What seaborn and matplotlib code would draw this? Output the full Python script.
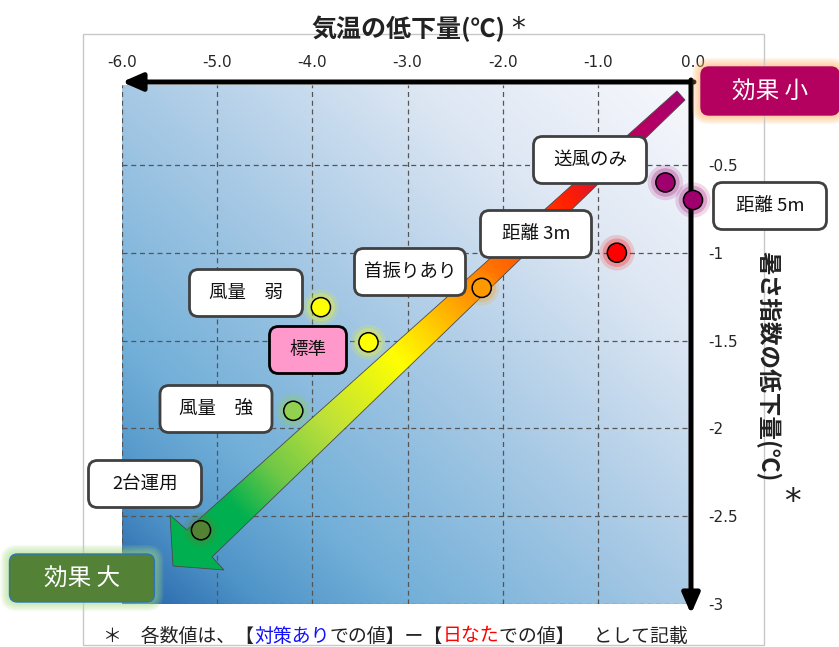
import numpy as np
import pandas as pd
import matplotlib.pyplot as plt
import seaborn as sns
from matplotlib.colors import LinearSegmentedColormap
from matplotlib.patches import FancyBboxPatch, Polygon, Rectangle
from matplotlib.transforms import Affine2D

# values
labels = ['送風のみ', '距離 5m', '距離 3m', '首振りあり', '風量　弱', '標準', '風量　強', '2台運用']
air_temp_drop = [-0.29, 0.0, -0.80, -2.22, -3.91, -3.41, -4.20, -5.17]
wbgt_drop = [-0.60, -0.70, -1.00, -1.20, -1.31, -1.51, -1.90, -2.58]
point_colors = ['#a0006e', '#a0006e', '#ff0000', '#ff9900', '#ffff00', '#ffff00', '#92d050', '#548235']

x_ticks = [-6, -5, -4, -3, -2, -1, 0]
x_ticklabels = ['-6.0', '-5.0', '-4.0', '-3.0', '-2.0', '-1.0', '0.0']
y_ticks = [-0.5, -1, -1.5, -2, -2.5, -3]
y_ticklabels = ['-0.5', '-1', '-1.5', '-2', '-2.5', '-3']

x_title = '気温の低下量(℃)'
y_title = '暑さ指数の低下量(℃)'
note_parts = ['＊　各数値は、【', '対策あり', 'での値】ー【', '日なた', 'での値】　として記載']
note_colors = ['#222222', '#1010ff', '#222222', '#ff0000', '#222222']

# label box layout, in pixels of the 839x647 picture (y down)
box_xy = [(590, 160), (770, 206), (536, 234), (410, 272), (246, 293), (308, 350), (216, 409), (145, 484)]
box_w = [113, 113, 111, 111, 113, 77, 112, 113]
box_h = 47

df = pd.DataFrame({'label': labels, 'air': air_temp_drop, 'wbgt': wbgt_drop})

sns.set_style('white')
plt.rcParams['font.family'] = ['Noto Sans CJK JP', 'DejaVu Sans']

W, H = 839, 647
L, R, T, B = 122, 693, 85, 604
fig = plt.figure(figsize=(W / 100, H / 100), dpi=100)
ax = fig.add_axes([L / W, 1 - B / H, (R - L) / W, (B - T) / H])
px = Affine2D().scale(1 / W, -1 / H).translate(0, 1) + fig.transFigure
ytop = -0.045
ext = (-6, 0, -3, ytop)

# background gradient (light top-right -> dark blue bottom-left)
n = 400
U, V = np.meshgrid(np.linspace(0, 1, n), np.linspace(1, 0, n))
bg_cmap = LinearSegmentedColormap.from_list('bg', [(0, '#f8f8fd'), (0.25, '#dce6f3'), (0.5, '#a7c9e5'),
                                                   (0.75, '#72afd8'), (0.88, '#4f94c8'), (1, '#2462a8')])
ax.imshow((2 - U - V) / 2, cmap=bg_cmap, vmin=0, vmax=1, extent=ext, aspect='auto', zorder=0)

# big tapered gradient arrow
PX = L + U * (R - L)
PY = B - V * (B - T)
tail = np.array([681, 95])
tip = np.array([173, 566])
d = tip - tail
t = ((PX - tail[0]) * d[0] + (PY - tail[1]) * d[1]) / float(d @ d)
arrow_cmap = LinearSegmentedColormap.from_list('ar', [(0, '#a8006e'), (0.12, '#c0005a'), (0.22, '#ff2000'),
                                                      (0.33, '#ff5a00'), (0.43, '#ff9a00'), (0.50, '#ffd400'),
                                                      (0.56, '#ffff00'), (0.70, '#bce03a'), (0.80, '#70c846'),
                                                      (0.88, '#00b050'), (1, '#00b050')])
im = ax.imshow(np.clip(t, 0, 1), cmap=arrow_cmap, vmin=0, vmax=1, extent=ext, aspect='auto', zorder=2)
shape = Polygon([(677, 91), (685, 100), (212, 557), (224, 570), (173, 566), (170, 515), (187, 530)],
                closed=True, transform=px, fc='none', ec='#4a4a4a', lw=0.6, zorder=2.1)
ax.add_patch(shape)
im.set_clip_path(shape)

# points with a soft glow
for s, a in [(650, 0.15), (420, 0.25)]:
    sns.scatterplot(data=df, x='air', y='wbgt', hue='label', palette=point_colors, s=s, alpha=a,
                    linewidth=0, legend=False, ax=ax, zorder=3, clip_on=False)
sns.scatterplot(data=df, x='air', y='wbgt', hue='label', palette=point_colors, s=190,
                edgecolor='black', linewidth=1.1, legend=False, ax=ax, zorder=5, clip_on=False)

# axis arrows
arrow_kw = dict(arrowstyle='-|>,head_length=0.55,head_width=0.24', color='black', lw=3.6,
                mutation_scale=22, shrinkA=0, shrinkB=0)
ax.annotate('', xy=(122, 82), xytext=(694, 82), xycoords=px, arrowprops=arrow_kw,
            annotation_clip=False, zorder=4)
ax.annotate('', xy=(691, 614), xytext=(691, 80), xycoords=px, arrowprops=arrow_kw,
            annotation_clip=False, zorder=4)

ax.set_xlim(-6, 0)
ax.set_ylim(-3, ytop)
ax.xaxis.tick_top()
ax.yaxis.tick_right()
ax.set_xticks(x_ticks, x_ticklabels)
ax.set_yticks(y_ticks, y_ticklabels)
ax.tick_params(length=0, labelsize=11, labelcolor='#262626')
ax.tick_params(axis='x', pad=11)
ax.tick_params(axis='y', pad=11)
for lbl in ax.get_xticklabels() + ax.get_yticklabels():
    lbl.set_fontfamily('DejaVu Sans')
ax.grid(True, color='#555555', linestyle=(0, (4, 3)), linewidth=0.9)
ax.set_axisbelow(True)
for sp in ax.spines.values():
    sp.set_visible(False)
ax.set_xlabel('')
ax.set_ylabel('')

# outer light frame
fig.add_artist(Rectangle((83, 34), 681, 611, transform=px, fill=False, ec='#c8c8c8', lw=1, zorder=1.5))

# label boxes
for lab, (cx, cy), w in zip(labels, box_xy, box_w):
    fc, ec = ('#ff99cc', 'black') if lab == '標準' else ('white', '#404040')
    fig.add_artist(FancyBboxPatch((cx - w / 2, cy - box_h / 2), w, box_h, boxstyle='round,pad=0,rounding_size=9',
                                  transform=px, fc=fc, ec=ec, lw=2, zorder=2))
    fig.text(cx, cy, lab, transform=px, ha='center', va='center', fontsize=13.3, color='#111111', zorder=3)

# effect boxes with glow
for text, (cx, cy), w, fc, ec, glow in [('効果 小', (770, 91), 138, '#b4005e', '#b4005e', '#ffb060'),
                                        ('効果 大', (82, 578), 145, '#538135', '#2e75b6', '#a6dc80')]:
    for k in range(1, 8):
        e = 1.3 * k
        fig.add_artist(FancyBboxPatch((cx - w / 2 - e, cy - 24 - e), w + 2 * e, 48 + 2 * e,
                                      boxstyle='round,pad=0,rounding_size=%g' % (8 + e), transform=px,
                                      fc=glow, ec='none', alpha=0.11, zorder=1))
    fig.add_artist(FancyBboxPatch((cx - w / 2, cy - 24), w, 48, boxstyle='round,pad=0,rounding_size=8',
                                  transform=px, fc=fc, ec=ec, lw=1, zorder=2))
    fig.text(cx, cy + 1, text, transform=px, ha='center', va='center', fontsize=17, color='white', zorder=3)

# axis titles
fig.text(408, 29, x_title, transform=px, ha='center', va='center', fontsize=18, fontweight='bold', color='#222222')
fig.text(518, 37, '*', transform=px, ha='center', va='baseline', fontsize=20, family='DejaVu Sans', color='#222222')
fig.text(768, 366, y_title, transform=px, ha='center', va='center', rotation=270, fontsize=17,
         fontweight='bold', color='#222222')
fig.text(792, 512, '*', transform=px, ha='center', va='baseline', fontsize=24, family='DejaVu Sans', color='#222222')

# footnote with coloured parts
prev = fig.text(103, 636, note_parts[0], transform=px, ha='left', va='center', fontsize=13.6, color=note_colors[0])
for part, c in zip(note_parts[1:], note_colors[1:]):
    prev = ax.annotate(part, xy=(1, 0.5), xycoords=prev, ha='left', va='center', fontsize=13.6, color=c,
                       annotation_clip=False)

fig.savefig('out.png', dpi=100)
